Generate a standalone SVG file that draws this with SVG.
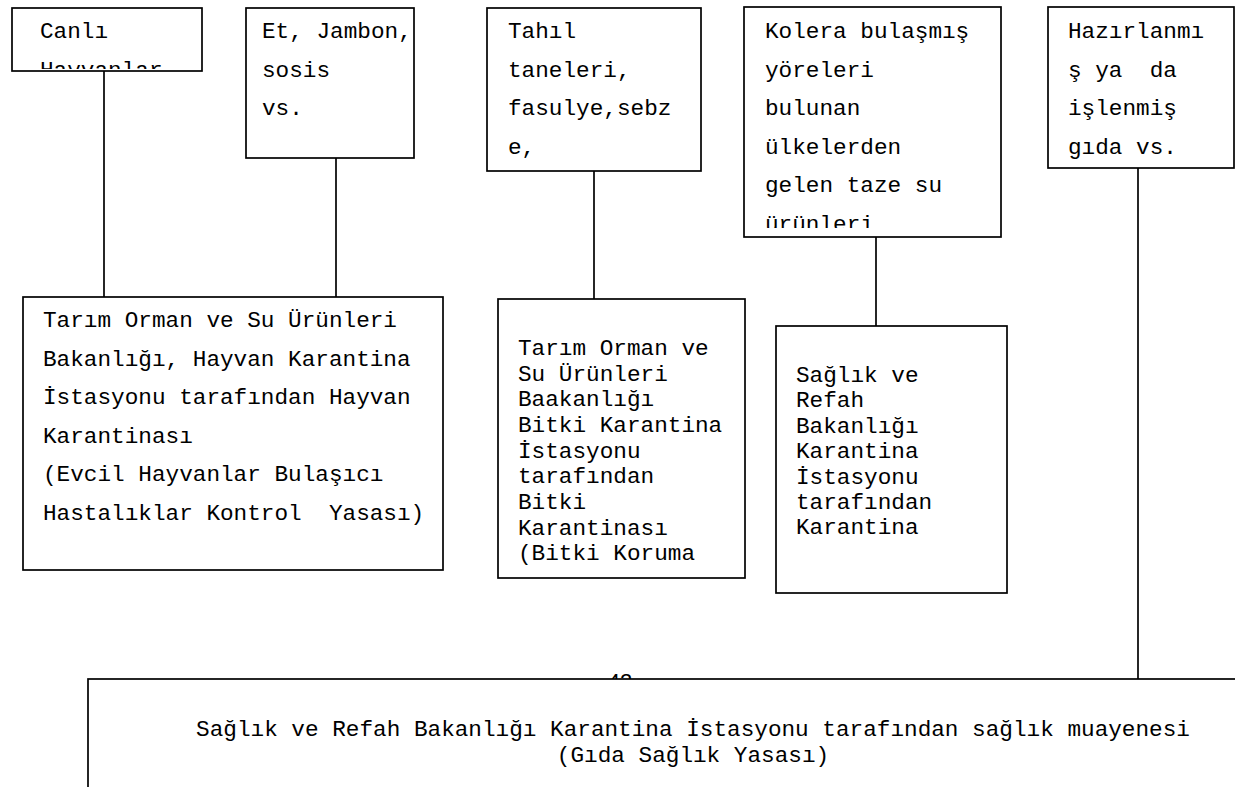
<svg xmlns="http://www.w3.org/2000/svg" width="1235" height="787" viewBox="0 0 1235 787">
<style>
.box{fill:#fff;stroke:#000;stroke-width:1.7}
.t{font-family:"Liberation Mono","Courier New",monospace;font-size:22.7px;fill:#000}
.c{stroke:#000;stroke-width:1.7;fill:none}
.pg{font-family:"Liberation Sans",Arial,sans-serif;font-size:22px;fill:#000}
</style>
<defs>
<clipPath id="clipA"><rect x="12" y="8" width="190" height="61"/></clipPath>
<clipPath id="clipD"><rect x="744" y="7" width="257" height="221"/></clipPath>
</defs>
<g id="connectors">
<line class="c" x1="104" y1="71" x2="104" y2="305"/>
<line class="c" x1="336" y1="158" x2="336" y2="303"/>
<line class="c" x1="594" y1="171" x2="594" y2="303"/>
<line class="c" x1="876" y1="237" x2="876" y2="326"/>
<line class="c" x1="1138" y1="168" x2="1138" y2="679"/>
</g>
<g id="nodeA">
<rect class="box" x="12" y="8" width="190" height="63"/>
<g clip-path="url(#clipA)">
<text class="t" x="40" y="38">Canlı</text>
<text class="t" x="40" y="76.5">Hayvanlar</text>
</g>
</g>
<g id="nodeB">
<rect class="box" x="246" y="8" width="168" height="150"/>
<text class="t" x="262" y="38">Et, Jambon,</text>
<text class="t" x="262" y="76.5">sosis</text>
<text class="t" x="262" y="115">vs.</text>
</g>
<g id="nodeC">
<rect class="box" x="487" y="8" width="214" height="163"/>
<text class="t" x="508" y="38">Tahıl</text>
<text class="t" x="508" y="76.5">taneleri,</text>
<text class="t" x="508" y="115">fasulye,sebz</text>
<text class="t" x="508" y="153.5">e,</text>
</g>
<g id="nodeD">
<rect class="box" x="744" y="7" width="257" height="230"/>
<g clip-path="url(#clipD)">
<text class="t" x="765" y="38">Kolera bulaşmış</text>
<text class="t" x="765" y="76.5">yöreleri</text>
<text class="t" x="765" y="115">bulunan</text>
<text class="t" x="765" y="153.5">ülkelerden</text>
<text class="t" x="765" y="192">gelen taze su</text>
<text class="t" x="765" y="230.5">ürünleri</text>
</g>
</g>
<g id="nodeE">
<rect class="box" x="1048" y="7" width="186" height="161"/>
<text class="t" x="1068" y="38">Hazırlanmı</text>
<text class="t" x="1068" y="76.5" xml:space="preserve">ş ya  da</text>
<text class="t" x="1068" y="115">işlenmiş</text>
<text class="t" x="1068" y="153.5">gıda vs.</text>
</g>
<g id="nodeF">
<rect class="box" x="23" y="297" width="420" height="273"/>
<text class="t" x="43" y="327">Tarım Orman ve Su Ürünleri</text>
<text class="t" x="43" y="365.5">Bakanlığı, Hayvan Karantina</text>
<text class="t" x="43" y="404">İstasyonu tarafından Hayvan</text>
<text class="t" x="43" y="442.5">Karantinası</text>
<text class="t" x="43" y="481">(Evcil Hayvanlar Bulaşıcı</text>
<text class="t" x="43" y="519.5" xml:space="preserve">Hastalıklar Kontrol  Yasası)</text>
</g>
<g id="nodeG">
<rect class="box" x="498" y="299" width="247" height="279"/>
<text class="t" x="518" y="355">Tarım Orman ve</text>
<text class="t" x="518" y="381">Su Ürünleri</text>
<text class="t" x="518" y="406">Baakanlığı</text>
<text class="t" x="518" y="432">Bitki Karantina</text>
<text class="t" x="518" y="458">İstasyonu</text>
<text class="t" x="518" y="483">tarafından</text>
<text class="t" x="518" y="509">Bitki</text>
<text class="t" x="518" y="535">Karantinası</text>
<text class="t" x="518" y="560">(Bitki Koruma</text>
</g>
<g id="nodeH">
<rect class="box" x="776" y="326" width="231" height="267"/>
<text class="t" x="796" y="382">Sağlık ve</text>
<text class="t" x="796" y="407">Refah</text>
<text class="t" x="796" y="433">Bakanlığı</text>
<text class="t" x="796" y="458">Karantina</text>
<text class="t" x="796" y="484">İstasyonu</text>
<text class="t" x="796" y="509">tarafından</text>
<text class="t" x="796" y="534">Karantina</text>
</g>
<text class="pg" x="620" y="689" text-anchor="middle">42</text>
<g id="nodeI">
<rect class="box" x="88" y="679" width="1200" height="200"/>
<text class="t" x="693" y="736" text-anchor="middle">Sağlık ve Refah Bakanlığı Karantina İstasyonu tarafından sağlık muayenesi</text>
<text class="t" x="693" y="762" text-anchor="middle">(Gıda Sağlık Yasası)</text>
</g>
</svg>
